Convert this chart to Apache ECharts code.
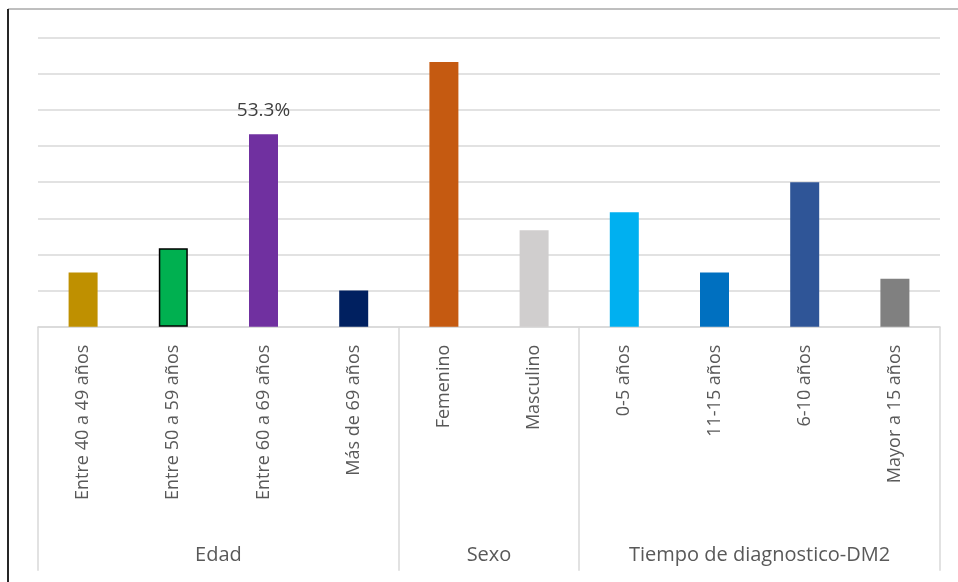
<!DOCTYPE html>
<html><head><meta charset="utf-8">
<script src="https://cdn.jsdelivr.net/npm/echarts@6/dist/echarts.min.js"></script>
<style>html,body{margin:0;padding:0;background:#fff}#c{width:958px;height:582px}</style>
</head><body><div id="c"></div>
<script>
const categories = ["Entre 40 a 49 años","Entre 50 a 59 años","Entre 60 a 69 años","Más de 69 años","Femenino","Masculino","0-5 años","11-15 años","6-10 años","Mayor a 15 años"];
const values = [15.0, 21.7, 53.3, 10.0, 73.3, 26.7, 31.7, 15.0, 40.0, 13.3];
const colors = ["#BF9000","#00B050","#7030A0","#002060","#C55A11","#D0CECE","#00B0F0","#0070C0","#2F5597","#808080"];
const groups = ["Edad","Sexo","Tiempo de diagnostico-DM2"];
const groupCenters = [2, 5, 8];
const groupBounds = [0, 4, 6, 10];
const labelledIndex = 2;

const FONT = "Open Sans";
const TXT = "#595959";
const chart = echarts.init(document.getElementById('c'));
chart.setOption({
  animation: false,
  grid: {left: 38, right: 18, top: 37.7, bottom: 255.3},
  xAxis: [{
    type: 'category', data: categories,
    axisLine: {show: true, lineStyle: {color: '#D9D9D9', width: 1.5}},
    axisTick: {show: false},
    axisLabel: {rotate: 90, margin: 18, color: TXT, fontFamily: FONT, fontSize: 18, interval: 0}
  }, {
    type: 'value', min: 0, max: 10, position: 'bottom',
    axisLine: {show: false},
    splitLine: {show: false},
    axisTick: {show: true, customValues: groupBounds, length: 244, lineStyle: {color: '#D9D9D9', width: 1.5}},
    axisLabel: {customValues: groupCenters, margin: 219, color: TXT, fontFamily: FONT, fontSize: 20,
      formatter: v => groups[groupCenters.indexOf(v)]}
  }],
  yAxis: {
    type: 'value', min: 0, max: 80, interval: 10,
    axisLabel: {show: false}, axisLine: {show: false}, axisTick: {show: false},
    splitLine: {lineStyle: {color: '#D9D9D9', width: 1.5}}
  },
  series: [{
    type: 'bar', xAxisIndex: 0, barWidth: 29,
    data: values.map((v, i) => ({
      value: v,
      itemStyle: {color: colors[i], borderColor: i === 1 ? '#000' : undefined, borderWidth: i === 1 ? 1.5 : 0},
      label: {show: i === labelledIndex, position: 'top', distance: 14, formatter: p => p.value.toFixed(1) + '%',
        color: '#404040', fontFamily: FONT, fontSize: 19}
    }))
  }],
  graphic: [
    {type: 'line', shape: {x1: 8, y1: 9, x2: 958, y2: 9}, style: {stroke: '#7F7F7F', lineWidth: 1}},
    {type: 'line', shape: {x1: 8, y1: 9, x2: 8, y2: 582}, style: {stroke: '#262626', lineWidth: 2}}
  ]
});
</script></body></html>
